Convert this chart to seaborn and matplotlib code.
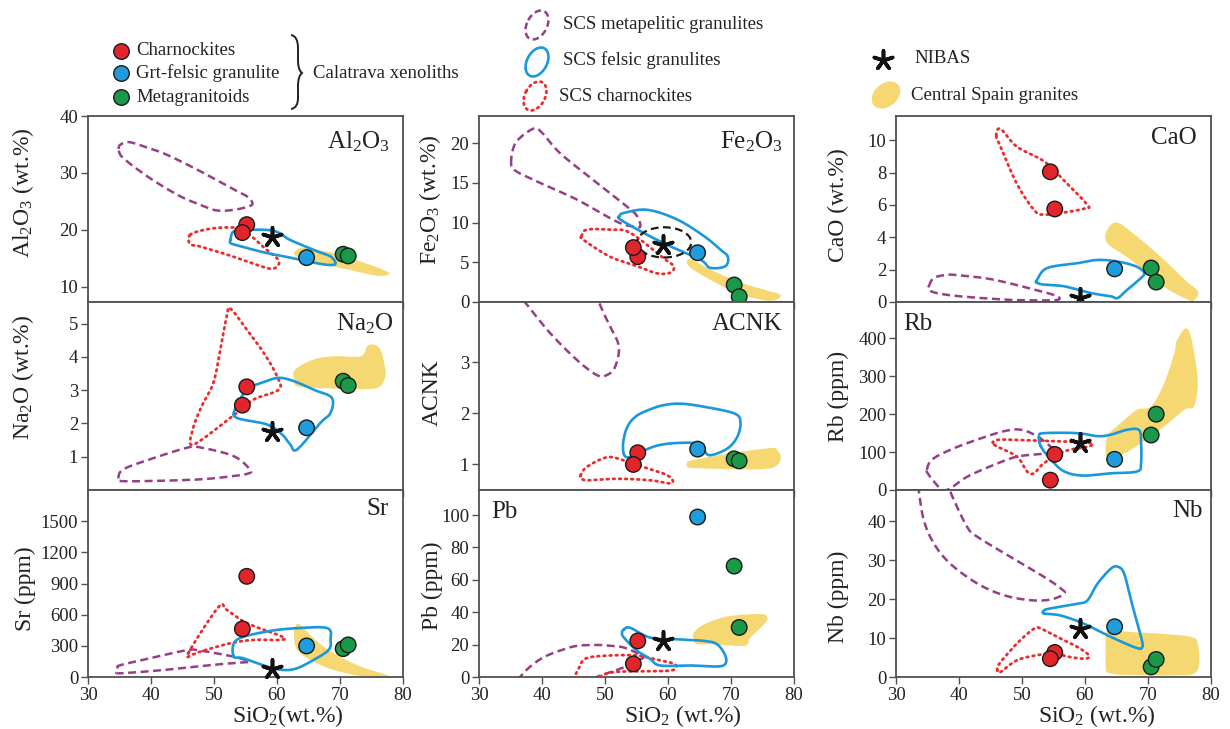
import numpy as np
import pandas as pd
import matplotlib
matplotlib.use("Agg")
import matplotlib.pyplot as plt
from matplotlib.patches import Ellipse, PathPatch
from matplotlib.path import Path
import seaborn as sns

sns.set_style("ticks")
plt.rcParams["font.family"] = ["Liberation Serif", "DejaVu Serif"]
plt.rcParams["mathtext.fontset"] = "custom"
plt.rcParams["mathtext.rm"] = "Liberation Serif"
plt.rcParams["mathtext.default"] = "rm"

# =============================================================================
# data
# =============================================================================
GROUPS = ["Charnockites", "Grt-felsic granulite", "Metagranitoids"]
SAMPLE_GROUP = ["Charnockites", "Charnockites", "Grt-felsic granulite",
                "Metagranitoids", "Metagranitoids"]
SIO2 = [55.2, 54.5, 64.7, 70.5, 71.3]
AL2O3 = [20.9, 19.5, 15.1, 15.7, 15.4]
NA2O = [3.10, 2.55, 1.87, 3.27, 3.14]
SR = [969, 463, 299, 273, 309]
FE2O3 = [5.7, 6.85, 6.2, 2.14, 0.67]
ACNK = [1.23, 1.00, 1.30, 1.11, 1.07]
PB = [22.3, 8.1, 98.8, 68.5, 30.6]
CAO = [5.75, 8.05, 2.05, 2.10, 1.23]
RB = [94, 26, 81, 145, 200]
NB = [6.3, 4.7, 12.9, 2.6, 4.5]

# NIBAS (SiO2, value); no ACNK value
NIBAS_SIO2 = 59.2
NIBAS = {"Al2O3": 18.8, "Na2O": 1.74, "Sr": 80, "Fe2O3": 7.2,
         "Pb": 22, "CaO": 0.25, "Rb": 125, "Nb": 12.2}
NIBAS_FE_ELLIPSE = (59.4, 7.5, 8.6, 3.8)  # centre x, centre y, width, height

# field outlines (SiO2, element)
AL_META = [(34.9, 34.2), (35.2, 35.0), (36.6, 35.4), (39.5, 34.4), (42.5, 33.2), (47.8, 30.3),
           (53.1, 27.1), (55.2, 25.9), (56.1, 24.7), (55.5, 24.1), (53.1, 23.5), (50.4, 23.4),
           (47.8, 24.4), (44.6, 25.9), (39.8, 29.1), (35.6, 32.6)]
AL_CHARN = [(46.2, 19.1), (48.5, 20.0), (51.5, 20.4), (54.0, 20.2), (56.0, 18.8), (58.0, 16.8),
            (60.0, 15.0), (60.3, 14.0), (59.5, 13.2), (58.0, 13.4), (53.0, 15.3), (48.0, 17.0),
            (46.2, 17.5)]
AL_FELSIC = [(52.6, 18.2), (53.1, 19.7), (55.2, 20.0), (59.5, 19.8), (62.1, 18.2), (66.4, 16.2),
             (68.5, 15.3), (69.3, 14.1), (68.5, 13.8), (66.4, 14.1), (62.6, 15.0), (58.4, 15.9),
             (54.2, 17.1), (52.7, 17.6)]
AL_GRANITE = [(62.8, 15.6), (62.9, 16.2), (64.2, 16.8), (69.0, 15.9), (73.3, 14.4), (77.0, 12.9),
              (77.8, 12.2), (76.0, 11.9), (71.7, 12.9), (68.0, 13.8), (63.8, 15.0)]

NA_META = [(34.8, 0.35), (35.6, 0.62), (39.8, 0.92), (45.7, 1.27), (47.8, 1.28), (53.1, 1.02),
           (55.7, 0.62), (55.5, 0.50), (53.1, 0.42), (47.8, 0.32), (39.8, 0.27), (35.2, 0.27)]
NA_CHARN = [(52.6, 5.45), (55.2, 4.82), (57.9, 4.12), (60.0, 3.42), (60.3, 3.02), (56.3, 2.72),
            (53.5, 2.30), (46.8, 1.37), (46.6, 1.80), (48.0, 2.50), (49.9, 3.22), (51.0, 4.22),
            (52.0, 5.20)]
NA_FELSIC = [(53.4, 2.45), (55.3, 3.02), (58.0, 3.25), (60.3, 3.37), (62.7, 3.27), (66.0, 3.00),
             (68.7, 2.77), (68.5, 2.32), (66.9, 2.02), (63.2, 1.22), (62.1, 1.37), (60.8, 1.67),
             (58.4, 1.97), (53.6, 2.17)]
NA_GRANITE = [(62.7, 3.32), (62.9, 3.62), (65.8, 3.92), (69.0, 4.02), (73.3, 4.02), (74.3, 4.32),
              (75.4, 4.37), (76.4, 4.22), (77.0, 3.82), (77.2, 3.42), (75.9, 3.07), (71.7, 3.04),
              (66.4, 3.07), (63.2, 3.12)]

SR_META = [(34.7, 90), (35.2, 115), (39.8, 180), (45.7, 258), (47.8, 254), (53.1, 196),
           (55.5, 150), (54.5, 140), (50.4, 120), (42.5, 70), (35.2, 36), (34.7, 55)]
SR_CHARN = [(45.9, 229), (50.7, 673), (52.0, 647), (55.2, 519), (60.8, 389), (60.5, 357),
            (56.3, 357), (52.6, 325), (47.8, 244), (46.7, 219)]
SR_FELSIC = [(53.1, 200), (53.6, 357), (58.4, 438), (63.2, 470), (68.0, 470), (68.5, 357),
             (68.2, 261), (65.8, 164), (62.6, 74), (59.4, 84), (54.7, 180)]
SR_GRANITE = [(62.7, 389), (62.9, 486), (63.7, 502), (66.1, 357), (69.0, 229), (73.3, 100),
              (78.0, 3), (74.3, 0), (69.0, 68), (65.3, 164), (63.2, 261)]

FE_META = [(35.1, 17.4), (35.8, 20.0), (38.6, 21.8), (40.0, 21.3), (42.9, 18.7), (48.7, 15.0),
           (53.5, 12.0), (55.1, 10.8), (55.6, 9.5), (54.5, 9.5), (51.9, 10.1), (45.5, 12.9),
           (40.2, 14.8), (36.0, 16.4)]
FE_CHARN = [(46.3, 8.3), (47.1, 9.1), (50.8, 9.1), (54.0, 8.7), (59.3, 5.5), (60.9, 4.5),
            (60.4, 3.7), (58.3, 3.6), (55.1, 4.5), (50.8, 5.7), (46.6, 7.8)]
FE_FELSIC = [(52.3, 10.8), (53.0, 11.2), (56.7, 11.6), (61.4, 10.4), (65.7, 8.3), (68.3, 6.6),
             (69.5, 5.7), (69.1, 4.5), (66.7, 4.3), (65.2, 5.3), (60.4, 7.0), (56.1, 8.7),
             (52.4, 10.4)]
FE_GRANITE = [(63.0, 5.1), (63.8, 5.3), (66.7, 4.1), (71.0, 2.6), (75.2, 1.55), (77.3, 1.1),
              (77.9, 0.7), (76.8, 0.2), (74.7, 0.3), (71.0, 1.1), (66.7, 2.8), (63.6, 4.3)]

AC_META = [(34.4, 5.0), (35.2, 4.5), (37.6, 4.13), (41.3, 3.57), (45.5, 3.05), (48.7, 2.75),
           (50.3, 2.75), (51.6, 2.91), (52.2, 3.31), (50.8, 3.70), (49.8, 3.96), (49.2, 4.13),
           (48.0, 4.5), (47.2, 5.0)]
AC_CHARN = [(46.1, 0.78), (47.1, 0.95), (50.3, 1.14), (53.0, 1.08), (56.1, 0.95), (59.3, 0.82),
            (60.6, 0.72), (60.4, 0.63), (57.2, 0.69), (51.9, 0.72), (47.1, 0.69), (46.2, 0.75)]
AC_FELSIC = [(53.0, 1.20), (52.9, 1.45), (53.6, 1.75), (55.0, 1.95), (57.2, 2.08), (59.3, 2.16),
             (62.0, 2.19), (65.7, 2.13), (70.5, 2.00), (71.5, 1.83), (71.0, 1.54), (69.4, 1.31),
             (66.7, 1.18), (65.7, 1.28), (64.6, 1.41), (61.4, 1.42), (58.3, 1.37), (55.6, 1.24),
             (53.8, 1.14)]
AC_GRANITE = [(63.0, 1.03), (63.8, 1.08), (69.4, 1.21), (76.3, 1.32), (77.3, 1.28), (77.9, 1.14),
              (77.3, 0.98), (75.2, 0.91), (69.4, 0.91), (64.1, 0.93), (63.1, 0.95)]

PB_META = [(35.6, -4), (36.5, 0), (38.0, 6), (40.2, 12.1), (43.0, 16.5), (45.5, 19.2),
           (48.7, 19.8), (51.0, 19.2), (53.0, 18.2), (55.5, 14.0), (56.1, 12.0), (54.5, 9.0),
           (53.0, 6.0), (50.5, 2.5), (48.7, 0), (47.8, -4)]
PB_CHARN = [(45.3, -1.5), (45.8, 5.0), (47.0, 11.5), (50.8, 13.3), (55.0, 13.3), (57.7, 11.2),
            (60.9, 8.2), (61.2, 5.2), (59.9, 3.8), (56.0, 3.6), (51.0, 2.8), (48.0, -1.5)]
PB_FELSIC = [(53.0, 29.4), (54.0, 30.4), (57.2, 24.3), (61.4, 23.3), (65.7, 22.3), (67.8, 20.2),
             (69.1, 13.2), (69.1, 8.1), (67.8, 6.5), (64.1, 7.1), (58.8, 7.1), (57.2, 11.1),
             (55.1, 16.2), (53.0, 24.3), (52.7, 27.3)]
PB_GRANITE = [(64.1, 23.3), (64.1, 27.3), (65.7, 32.4), (69.4, 37.4), (74.7, 38.9), (75.8, 36.4),
              (75.2, 32.4), (73.1, 24.3), (72.6, 20.2), (71.5, 19.2), (66.7, 20.2), (64.6, 20.2)]

CA_META = [(35.2, 0.97), (36.0, 1.48), (38.1, 1.68), (40.2, 1.64), (45.5, 1.38), (53.0, 0.66),
           (55.6, 0.35), (55.7, 0.14), (53.0, 0.10), (47.8, 0.14), (40.2, 0.35), (36.5, 0.55),
           (35.2, 0.76)]
CA_CHARN = [(45.9, 10.3), (46.6, 10.7), (49.2, 9.6), (53.5, 8.7), (56.7, 7.5), (60.4, 6.0),
            (60.1, 5.8), (57.7, 5.6), (53.5, 5.4), (51.9, 5.7), (49.2, 7.3), (46.6, 9.6)]
CA_FELSIC = [(52.3, 1.21), (52.4, 1.38), (54.0, 2.10), (58.8, 2.40), (62.0, 2.60), (65.2, 2.50),
             (68.1, 2.20), (69.4, 1.79), (68.6, 1.38), (66.7, 0.76), (65.2, 0.25), (64.1, 0.35),
             (61.0, 0.55), (56.7, 0.97), (53.5, 1.07)]
CA_GRANITE = [(63.3, 3.84), (63.3, 4.25), (64.1, 4.76), (65.2, 4.90), (67.3, 4.35), (72.0, 2.81),
              (75.8, 1.38), (77.9, 0.66), (77.4, 0.14), (76.3, 0.14), (72.0, 1.07), (67.3, 2.60),
              (64.1, 3.43)]

RB_META = [(34.9, 53), (35.7, 80), (38.6, 106), (42.9, 133), (47.1, 155), (49.8, 159),
           (52.4, 142), (54.5, 115), (55.3, 102), (53.5, 96), (49.2, 88), (45.5, 66),
           (41.3, 35), (38.6, 4), (37.3, 0), (36.5, 13), (35.2, 40)]
RB_CHARN = [(45.4, 124), (45.5, 128), (46.6, 133), (50.8, 131), (56.7, 128), (60.9, 124),
            (60.6, 115), (56.7, 102), (53.5, 71), (51.9, 44), (50.8, 49), (49.2, 88), (46.0, 115)]
RB_FELSIC = [(53.0, 115), (52.7, 142), (53.5, 150), (58.8, 150), (62.0, 142), (64.1, 146),
             (66.7, 159), (68.6, 158), (68.9, 124), (68.9, 71), (68.3, 49), (64.1, 44),
             (59.7, 38), (56.7, 49), (54.6, 80)]
RB_GRANITE = [(63.3, 97), (63.6, 142), (65.7, 177), (68.3, 212), (70.5, 221), (72.6, 283),
              (74.2, 363), (74.4, 385), (74.7, 398), (75.8, 425), (76.6, 416), (77.3, 363),
              (77.9, 283), (77.3, 221), (75.8, 212), (72.6, 168), (68.9, 124), (67.3, 106),
              (65.2, 88), (64.1, 84)]

NB_META = [(33.3, 52), (33.6, 48), (34.4, 40.3), (36.0, 34.3), (38.6, 29.1), (42.9, 24.0),
           (47.1, 21.0), (51.4, 19.7), (54.6, 19.9), (56.7, 21.4), (56.2, 22.7), (53.5, 25.7),
           (48.2, 30.8), (42.9, 36.0), (41.3, 38.5), (39.2, 45.4), (38.6, 48), (38.3, 52)]
NB_CHARN = [(46.1, 1.7), (46.4, 3.4), (49.2, 8.6), (51.9, 12.4), (53.0, 12.4), (55.6, 10.3),
            (58.8, 7.7), (60.6, 5.6), (60.1, 4.7), (57.7, 5.1), (55.1, 6.0), (52.4, 5.6),
            (49.2, 4.3), (46.6, 1.3)]
NB_FELSIC = [(53.5, 16.3), (53.5, 17.1), (54.5, 17.6), (58.8, 18.8), (60.4, 19.7), (62.0, 24.0),
             (64.1, 27.8), (65.2, 28.3), (66.2, 26.6), (67.3, 19.7), (68.9, 10.3), (69.1, 7.7),
             (68.1, 7.5), (64.1, 10.3), (59.8, 13.7), (56.1, 15.8)]
NB_GRANITE = [(63.3, 6.9), (63.3, 11.1), (64.1, 12.0), (66.7, 11.6), (72.0, 11.1), (76.8, 10.3),
              (77.9, 8.6), (78.1, 3.4), (77.3, 0.86), (74.7, 0.43), (69.4, 0.43), (64.1, 0.86),
              (63.3, 2.6)]

# =============================================================================
# styles
# =============================================================================
PALETTE = {"Charnockites": "#E0262B", "Grt-felsic granulite": "#1E9CDC",
           "Metagranitoids": "#1A9A48"}
C_META = "#963F88"
C_FELSIC = "#1B97DB"
C_CHARN = "#EE2A2A"
C_GRANITE = "#F5D872"
SPINE = "#505050"
STAR = (5, 2, 0)

W, H = 1230, 729
COL_LEFT = [88, 479, 896]
COL_W = 315
ROW_EDGE = [116, 302, 490, 677]
YLAB_X = [-0.165, -0.115, -0.15]
XLAB_X = [0.635, 0.648, 0.638]

xeno = pd.DataFrame({"SiO2": SIO2, "group": SAMPLE_GROUP, "Al2O3": AL2O3, "Na2O": NA2O,
                     "Sr": SR, "Fe2O3": FE2O3, "ACNK": ACNK, "Pb": PB, "CaO": CAO,
                     "Rb": RB, "Nb": NB})

PANELS = [
    dict(col=0, row=0, elem="Al2O3", ylim=(7.3, 40), yticks=[10, 20, 30, 40],
         ylabel="Al$_2$O$_3$ (wt.%)", yly=0.59, title="Al$_2$O$_3$", tpos=(0.96, 0.86, "right"),
         fields=(AL_META, AL_FELSIC, AL_CHARN, AL_GRANITE)),
    dict(col=0, row=1, elem="Na2O", ylim=(0, 5.65), yticks=[1, 2, 3, 4, 5],
         ylabel="Na$_2$O (wt.%)", yly=0.6, title="Na$_2$O", tpos=(0.97, 0.885, "right"),
         fields=(NA_META, NA_FELSIC, NA_CHARN, NA_GRANITE)),
    dict(col=0, row=2, elem="Sr", ylim=(0, 1800), yticks=[0, 300, 600, 900, 1200, 1500],
         ylabel="Sr (ppm)", yly=0.47, title="Sr", tpos=(0.955, 0.9, "right"),
         fields=(SR_META, SR_FELSIC, SR_CHARN, SR_GRANITE)),
    dict(col=1, row=0, elem="Fe2O3", ylim=(0, 23.4), yticks=[0, 5, 10, 15, 20],
         ylabel="Fe$_2$O$_3$ (wt.%)", yly=0.55, title="Fe$_2$O$_3$", tpos=(0.965, 0.86, "right"),
         fields=(FE_META, FE_FELSIC, FE_CHARN, FE_GRANITE)),
    dict(col=1, row=1, elem="ACNK", ylim=(0.5, 4.18), yticks=[1, 2, 3],
         ylabel="ACNK", yly=0.52, title="ACNK", tpos=(0.965, 0.885, "right"),
         fields=(AC_META, AC_FELSIC, AC_CHARN, AC_GRANITE)),
    dict(col=1, row=2, elem="Pb", ylim=(0, 115.5), yticks=[0, 20, 40, 60, 80, 100],
         ylabel="Pb (ppm)", yly=0.49, title="Pb", tpos=(0.04, 0.88, "left"),
         fields=(PB_META, PB_FELSIC, PB_CHARN, PB_GRANITE)),
    dict(col=2, row=0, elem="CaO", ylim=(0, 11.5), yticks=[0, 2, 4, 6, 8, 10],
         ylabel="CaO (wt.%)", yly=0.52, title="CaO", tpos=(0.955, 0.88, "right"),
         fields=(CA_META, CA_FELSIC, CA_CHARN, CA_GRANITE)),
    dict(col=2, row=1, elem="Rb", ylim=(0, 496), yticks=[0, 100, 200, 300, 400],
         ylabel="Rb (ppm)", yly=0.5, title="Rb", tpos=(0.022, 0.885, "left"),
         fields=(RB_META, RB_FELSIC, RB_CHARN, RB_GRANITE)),
    dict(col=2, row=2, elem="Nb", ylim=(0, 48), yticks=[0, 10, 20, 30, 40],
         ylabel="Nb (ppm)", yly=0.43, title="Nb", tpos=(0.975, 0.89, "right"),
         fields=(NB_META, NB_FELSIC, NB_CHARN, NB_GRANITE)),
]


def smooth_closed(pts, n=14):
    """closed Catmull-Rom curve through the traced vertices"""
    p = np.asarray(pts, float)
    P = np.vstack([p[-1], p, p[0], p[1]])
    t = np.linspace(0, 1, n, endpoint=False)[:, None]
    segs = []
    for i in range(1, len(p) + 1):
        p0, p1, p2, p3 = P[i - 1], P[i], P[i + 1], P[i + 2]
        segs.append(0.5 * (2 * p1 + (-p0 + p2) * t + (2 * p0 - 5 * p1 + 4 * p2 - p3) * t ** 2
                           + (-p0 + 3 * p1 - 3 * p2 + p3) * t ** 3))
    segs.append(p[:1])
    return np.vstack(segs)


fig = plt.figure(figsize=(W / 100, H / 100), dpi=100)
fig.patch.set_facecolor("white")

for pn in PANELS:
    l = COL_LEFT[pn["col"]]
    top, bot = ROW_EDGE[pn["row"]], ROW_EDGE[pn["row"] + 1]
    ax = fig.add_axes([l / W, 1 - bot / H, COL_W / W, (bot - top) / H])

    meta, felsic, charn, granite = pn["fields"]
    g = smooth_closed(granite)
    ax.fill(g[:, 0], g[:, 1], color=C_GRANITE, lw=0, zorder=1)
    m = smooth_closed(meta)
    ax.plot(m[:, 0], m[:, 1], color=C_META, lw=1.8, ls=(0, (3.2, 1.8)), zorder=2)
    c = smooth_closed(charn)
    ax.plot(c[:, 0], c[:, 1], color=C_CHARN, lw=2.0, ls=(0, (0.6, 1.6)),
            dash_capstyle="round", zorder=3)
    f = smooth_closed(felsic)
    ax.plot(f[:, 0], f[:, 1], color=C_FELSIC, lw=1.9, zorder=4)

    if pn["elem"] == "Fe2O3":
        cx, cy, ew, eh = NIBAS_FE_ELLIPSE
        ax.add_patch(Ellipse((cx, cy), ew, eh, fill=False, ec="#1a1a1a", lw=1.6,
                             ls=(0, (3.5, 2)), zorder=4))

    sns.scatterplot(data=xeno, x="SiO2", y=pn["elem"], hue="group", palette=PALETTE,
                    hue_order=GROUPS, s=125, edgecolor="#1a1a1a", linewidth=1.0,
                    legend=False, ax=ax, zorder=6)
    if pn["elem"] in NIBAS:
        ax.scatter([NIBAS_SIO2], [NIBAS[pn["elem"]]], marker=STAR, s=190, color="#111111",
                   linewidths=2.6, zorder=7, clip_on=False)

    ax.set_xlim(30, 80)
    ax.set_ylim(*pn["ylim"])
    ax.set_xticks([30, 40, 50, 60, 70, 80])
    ax.set_yticks(pn["yticks"])
    ax.tick_params(direction="out", length=5, width=1, color=SPINE, labelsize=13.5,
                   labelcolor="#222222", pad=2)
    for s in ax.spines.values():
        s.set_color(SPINE)
        s.set_linewidth(1.3)
        s.set_visible(True)
    ax.set_facecolor("white")

    ax.set_ylabel(pn["ylabel"], fontsize=17, color="#222222")
    ax.yaxis.set_label_coords(YLAB_X[pn["col"]], pn["yly"])
    if pn["row"] == 2:
        lab = "SiO$_2$(wt.%)" if pn["col"] == 0 else "SiO$_2$ (wt.%)"
        ax.set_xlabel(lab, fontsize=17, color="#222222")
        ax.xaxis.set_label_coords(XLAB_X[pn["col"]], -0.142)
    else:
        ax.set_xlabel("")
        ax.tick_params(labelbottom=False)

    tx, ty, tha = pn["tpos"]
    ax.text(tx, ty, pn["title"], transform=ax.transAxes, ha=tha, va="center",
            fontsize=18, color="#222222")

# =============================================================================
# legend drawn on a pixel overlay
# =============================================================================
lg = fig.add_axes([0, 0, 1, 1])
lg.set_xlim(0, W)
lg.set_ylim(H, 0)
lg.axis("off")

for grp, yy in zip(GROUPS, [50.7, 73.3, 97.3]):
    lg.scatter([120.7], [yy], s=125, color=PALETTE[grp], edgecolor="#1a1a1a", linewidths=1.0)
    lg.text(136, yy, grp, fontsize=13.5, va="center", ha="left", color="#222222")

brace = Path([(291, 35), (298, 36), (298, 48), (298, 60), (298, 70), (302, 73),
              (298, 76), (298, 86), (298, 98), (298, 108), (291, 109)],
             [Path.MOVETO, Path.CURVE3, Path.CURVE3, Path.LINETO, Path.CURVE3, Path.CURVE3,
              Path.CURVE3, Path.CURVE3, Path.LINETO, Path.CURVE3, Path.CURVE3])
lg.add_patch(PathPatch(brace, fill=False, lw=1.4, ec="#222222"))
lg.text(313, 73, "Calatrava xenoliths", fontsize=13.5, va="center", ha="left", color="#222222")

lg.add_patch(Ellipse((537, 25), 31, 20, angle=-62, fill=False, ec=C_META, lw=1.8,
                     ls=(0, (2.6, 1.5))))
lg.text(563, 24, "SCS metapelitic granulites", fontsize=13.5, va="center", color="#222222")
lg.add_patch(Ellipse((537, 62), 31, 20, angle=-62, fill=False, ec=C_FELSIC, lw=1.9))
lg.text(563, 60, "SCS felsic granulites", fontsize=13.5, va="center", color="#222222")
lg.add_patch(Ellipse((535, 96), 31, 20, angle=-62, fill=False, ec=C_CHARN, lw=2.0,
                     ls=(0, (0.6, 1.6)), capstyle="round"))
lg.text(559, 96, "SCS charnockites", fontsize=13.5, va="center", color="#222222")

lg.scatter([883], [60], marker=STAR, s=190, color="#111111", linewidths=2.6)
lg.text(914, 58, "NIBAS", fontsize=13.5, va="center", color="#222222")
lg.add_patch(Ellipse((886, 95), 32, 23, angle=-40, color=C_GRANITE, lw=0))
lg.text(911, 95, "Central Spain granites", fontsize=13.5, va="center", color="#222222")

fig.savefig("out.png", dpi=100, facecolor="white")
